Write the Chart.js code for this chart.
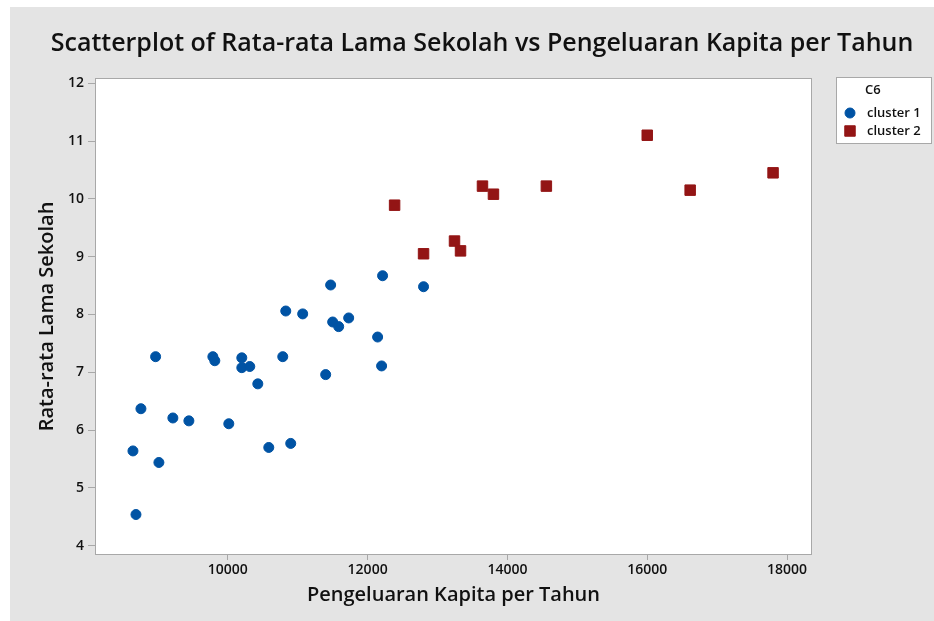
<!DOCTYPE html>
<html>
<head>
<meta charset="utf-8">
<script src="https://cdn.jsdelivr.net/npm/chart.js@4.4.1/dist/chart.umd.min.js"></script>
<style>
  body { margin: 0; background: #ffffff; }
  #wrap { position: absolute; left: 10px; top: 7px; width: 924px; height: 614px; background: #e4e4e4; }
</style>
</head>
<body>
<div id="wrap"><canvas id="myChart" width="924" height="614"></canvas></div>
<script>
// values
var cluster1X = [8686, 8643, 8757, 8967, 9014, 9214, 9443, 9786, 9814, 10014, 10200, 10200, 10314, 10429,
                 10586, 10786, 10829, 10900, 11071, 11400, 11471, 11500, 11586, 11729, 12143, 12200, 12214, 12800];
var cluster1Y = [4.54, 5.64, 6.37, 7.27, 5.44, 6.21, 6.16, 7.27, 7.20, 6.11, 7.25, 7.08, 7.10, 6.80,
                 5.70, 7.27, 8.06, 5.77, 8.01, 6.96, 8.51, 7.87, 7.79, 7.94, 7.61, 7.11, 8.67, 8.48];
var cluster2X = [12386, 12800, 13243, 13329, 13643, 13800, 14557, 16000, 16614, 17800];
var cluster2Y = [9.89, 9.05, 9.27, 9.10, 10.22, 10.08, 10.22, 11.10, 10.15, 10.45];
var xTicks = [10000, 12000, 14000, 16000, 18000];
var yTicks = [4, 5, 6, 7, 8, 9, 10, 11, 12];
var seriesNames = ["cluster 1", "cluster 2"];

var blue = '#0053a4';
var red = '#931515';

function pairs(xs, ys) {
    return xs.map(function(x, i) { return { x: x, y: ys[i] }; });
}

Chart.defaults.font.family = "'Open Sans', sans-serif";
Chart.defaults.color = '#111111';

// white plot area with grey frame
var frame = {
    id: 'frame',
    beforeDatasetsDraw: function(chart) {
        var a = chart.chartArea, c = chart.ctx;
        c.save();
        c.fillStyle = '#ffffff';
        c.fillRect(a.left, a.top, a.right - a.left, a.bottom - a.top);
        c.strokeStyle = '#a8a8a8';
        c.lineWidth = 1;
        c.strokeRect(a.left + 0.5, a.top + 0.5, a.right - a.left - 1, a.bottom - a.top - 1);
        c.restore();
    }
};

// legend box on the right
var keyBox = {
    id: 'keyBox',
    afterDraw: function(chart) {
        var c = chart.ctx;
        c.save();
        c.fillStyle = '#ffffff';
        c.fillRect(826, 70, 96, 67);
        c.strokeStyle = '#a8a8a8';
        c.strokeRect(826.5, 70.5, 95, 66);
        c.fillStyle = '#111111';
        c.font = "600 13px 'Open Sans', sans-serif";
        c.textBaseline = 'middle';
        c.textAlign = 'left';
        c.fillText('C6', 855, 83);
        chart.data.datasets.forEach(function(ds, i) {
            var y = 106 + i * 18;
            c.fillStyle = ds.backgroundColor;
            c.strokeStyle = ds.borderColor;
            Chart.helpers.drawPoint(c, { pointStyle: ds.pointStyle, radius: ds.pointRadius, borderWidth: 1, rotation: 0 }, 840, y);
            c.fillStyle = '#111111';
            c.fillText(ds.label, 857, y);
        });
        c.restore();
    }
};

var ctx = document.getElementById('myChart').getContext('2d');
var chart = new Chart(ctx, {
    type: 'scatter',
    data: {
        datasets: [{
            label: seriesNames[0],
            data: pairs(cluster1X, cluster1Y),
            pointStyle: 'circle',
            pointRadius: 5,
            backgroundColor: blue,
            borderColor: blue,
            borderWidth: 1
        }, {
            label: seriesNames[1],
            data: pairs(cluster2X, cluster2Y),
            pointStyle: 'rect',
            pointRadius: 7.4,
            backgroundColor: red,
            borderColor: red,
            borderWidth: 1
        }]
    },
    options: {
        responsive: false,
        devicePixelRatio: 1,
        animation: false,
        layout: { padding: { left: 20, right: 0, top: 0, bottom: 0 } },
        plugins: {
            legend: { display: false },
            tooltip: { enabled: false },
            title: {
                display: true,
                text: 'Scatterplot of Rata-rata Lama Sekolah vs Pengeluaran Kapita per Tahun',
                font: { size: 25, weight: '600' },
                color: '#111111',
                padding: { top: 22, bottom: 19 }
            }
        },
        scales: {
            x: {
                type: 'linear',
                min: 8100,
                max: 18357,
                afterBuildTicks: function(s) { s.ticks = xTicks.map(function(v) { return { value: v }; }); },
                afterFit: function(s) { s.height = 66; },
                grid: { drawOnChartArea: false, tickLength: 5, color: '#a8a8a8' },
                border: { display: false },
                ticks: { padding: 2, font: { size: 14, weight: '600' }, maxRotation: 0, callback: function(v) { return v; } },
                title: { display: true, text: 'Pengeluaran Kapita per Tahun', font: { size: 20, weight: '600' }, padding: { top: 0, bottom: 14 } }
            },
            y: {
                type: 'linear',
                min: 3.84,
                max: 12.09,
                afterBuildTicks: function(s) { s.ticks = yTicks.map(function(v) { return { value: v }; }); },
                afterFit: function(s) { s.width = 65; },
                grid: { drawOnChartArea: false, tickLength: 7, color: '#a8a8a8' },
                border: { display: false },
                ticks: { padding: 4, font: { size: 14, weight: '600' } },
                title: { display: true, text: 'Rata-rata Lama Sekolah', font: { size: 20, weight: '600' }, padding: { top: 5, bottom: 0 } }
            },
            keySpace: {
                type: 'linear',
                axis: 'y',
                position: 'right',
                display: true,
                grid: { display: false },
                border: { display: false },
                ticks: { display: false },
                afterFit: function(s) { s.width = 122; }
            }
        }
    },
    plugins: [frame, keyBox]
});
</script>
</body>
</html>
